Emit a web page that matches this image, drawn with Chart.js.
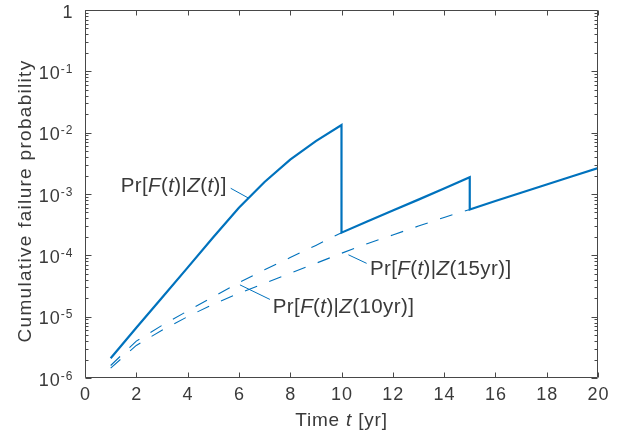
<!DOCTYPE html>
<html>
<head>
<meta charset="utf-8">
<script src="https://cdn.jsdelivr.net/npm/chart.js@4.4.1/dist/chart.umd.min.js"></script>
<style>
  html, body { margin: 0; padding: 0; background: #fff; }
  canvas { display: block; }
</style>
</head>
<body>
<canvas id="chart" width="622" height="439"></canvas>
<script>
// Cumulative failure probability, updated with the inspection record Z(t)
// (drops at the inspections at 10 and 15 years)
const tUpdated = [1, 2, 3, 4, 5, 6, 7, 8, 9, 10, 10, 11, 12, 13, 14, 15, 15, 16, 17, 18, 19, 20];
const pUpdated = [2.1e-6, 6.6e-6, 2.04e-5, 6.3e-5, 1.97e-4, 5.96e-4, 1.57e-3, 3.63e-3, 7.3e-3, 1.33e-2,
                  2.34e-4, 3.55e-4, 5.4e-4, 8.1e-4, 1.23e-3, 1.88e-3,
                  5.6e-4, 7.7e-4, 1.05e-3, 1.43e-3, 1.95e-3, 2.65e-3];

// Prediction conditional on the 10-year inspection outcome
const t10yr = [1, 2, 3, 4, 5, 6, 7, 8, 9, 10];
const p10yr = [1.6e-6, 4.0e-6, 7.2e-6, 1.24e-5, 2.1e-5, 3.6e-5, 5.8e-5, 9.2e-5, 1.45e-4, 2.34e-4];

// Prediction conditional on the 15-year inspection outcome
const t15yr = [1, 2, 3, 4, 5, 6, 7, 8, 9, 10, 11, 12, 13, 14, 15];
const p15yr = [1.45e-6, 3.4e-6, 6.0e-6, 1.0e-5, 1.6e-5, 2.4e-5, 3.5e-5, 5.1e-5, 7.4e-5, 1.08e-4,
               1.55e-4, 2.15e-4, 3.0e-4, 4.15e-4, 5.6e-4];

// Axis ticks
const xTickValues = [0, 2, 4, 6, 8, 10, 12, 14, 16, 18, 20];
const xTickLabels = ['0', '2', '4', '6', '8', '10', '12', '14', '16', '18', '20'];
const yTickExponents = [-6, -5, -4, -3, -2, -1, 0];
const yTickLabels = [['10', '-6'], ['10', '-5'], ['10', '-4'], ['10', '-3'], ['10', '-2'], ['10', '-1'], ['1', '']];

const xTitle = [['Time ', false], ['t', true], [' [yr]', false]];
const yTitle = 'Cumulative failure probability';

// Curve labels: rich-text pieces [string, italic]
const curveLabels = [
  { parts: [['Pr[', false], ['F', true], ['(', false], ['t', true], [')|', false], ['Z', true], ['(', false], ['t', true], [')]', false]],
    at: [1.39, 1.09e-3], lead: [[5.68, 1.24e-3], [6.37, 8.6e-4]] },
  { parts: [['Pr[', false], ['F', true], ['(', false], ['t', true], [')|', false], ['Z', true], ['(15yr)]', false]],
    at: [11.11, 4.7e-5], lead: [[10.98, 7.4e-5], [10.27, 1.02e-4]] },
  { parts: [['Pr[', false], ['F', true], ['(', false], ['t', true], [')|', false], ['Z', true], ['(10yr)]', false]],
    at: [7.32, 1.15e-5], lead: [[7.21, 1.91e-5], [6.04, 3.3e-5]] }
];

const BLUE = '#0072BD';
const AXIS = '#484848';
const TEXT = '#3a3a3a';
const FONT = '"Liberation Sans", Arial, Helvetica, sans-serif';

const toXY = (ts, ps) => ts.map((t, i) => ({ x: t, y: ps[i] }));

function setSpacing(ctx, px) {
  if ('letterSpacing' in ctx) ctx.letterSpacing = px + 'px';
}

function partsWidth(ctx, parts, size) {
  let w = 0;
  for (const [s, it] of parts) {
    ctx.font = (it ? 'italic ' : '') + size + 'px ' + FONT;
    w += ctx.measureText(s).width;
  }
  return w;
}

function drawParts(ctx, parts, x, y, size) {
  let cx = x;
  ctx.textAlign = 'left';
  for (const [s, it] of parts) {
    ctx.font = (it ? 'italic ' : '') + size + 'px ' + FONT;
    ctx.fillText(s, cx, y);
    cx += ctx.measureText(s).width;
  }
}

// Boxed axes with inward ticks, log minor ticks, labels and curve annotations
const axesDecor = {
  id: 'axesDecor',
  afterDraw(chart) {
    const { ctx, chartArea: a, scales: { x, y } } = chart;
    const L = Math.round(a.left) + 0.5;
    const R = Math.round(a.right) - 0.5;
    const T = Math.round(a.top) + 0.5;
    const B = Math.round(a.bottom) - 0.5;

    ctx.save();
    ctx.strokeStyle = AXIS;
    ctx.lineWidth = 1;
    ctx.beginPath();
    ctx.rect(L, T, R - L, B - T);
    xTickValues.forEach(v => {
      const px = Math.round(x.getPixelForValue(v)) + 0.5;
      ctx.moveTo(px, B); ctx.lineTo(px, B - 5);
      ctx.moveTo(px, T); ctx.lineTo(px, T + 5);
    });
    yTickExponents.forEach(e => {
      const py = Math.round(y.getPixelForValue(Math.pow(10, e))) + 0.5;
      ctx.moveTo(L, py); ctx.lineTo(L + 6, py);
      ctx.moveTo(R, py); ctx.lineTo(R - 6, py);
    });
    for (let e = yTickExponents[0]; e < yTickExponents[yTickExponents.length - 1]; e++) {
      for (let k = 2; k <= 9; k++) {
        const py = Math.round(y.getPixelForValue(k * Math.pow(10, e))) + 0.5;
        ctx.moveTo(L, py); ctx.lineTo(L + 3, py);
        ctx.moveTo(R, py); ctx.lineTo(R - 3, py);
      }
    }
    ctx.stroke();

    // tick labels
    ctx.fillStyle = TEXT;
    ctx.textBaseline = 'alphabetic';
    setSpacing(ctx, 1);
    ctx.font = '18px ' + FONT;
    ctx.textAlign = 'center';
    xTickValues.forEach((v, i) => {
      ctx.fillText(xTickLabels[i], x.getPixelForValue(v) + 0.5, B + 22);
    });
    const labelRight = L - 12;
    yTickExponents.forEach((e, i) => {
      const py = y.getPixelForValue(Math.pow(10, e));
      const [base, sup] = yTickLabels[i];
      ctx.font = '12px ' + FONT;
      const ws = sup ? ctx.measureText(sup).width : 0;
      if (sup) {
        ctx.textAlign = 'left';
        ctx.fillText(sup, labelRight - ws, py + 1.5);
      }
      ctx.font = '18px ' + FONT;
      ctx.textAlign = 'right';
      ctx.fillText(base, labelRight - ws, py + 7.5);
    });

    // axis titles
    setSpacing(ctx, 0.8);
    const tw = partsWidth(ctx, xTitle, 19);
    drawParts(ctx, xTitle, (a.left + a.right) / 2 - tw / 2, 426, 19);

    setSpacing(ctx, 1.3);
    ctx.save();
    ctx.translate(31, 201);
    ctx.rotate(-Math.PI / 2);
    ctx.font = '19px ' + FONT;
    ctx.textAlign = 'center';
    ctx.fillText(yTitle, 0, 0);
    ctx.restore();

    // curve annotations with leader lines
    ctx.strokeStyle = BLUE;
    ctx.lineWidth = 1;
    curveLabels.forEach(lbl => {
      const [p0, p1] = lbl.lead;
      ctx.beginPath();
      ctx.moveTo(x.getPixelForValue(p0[0]), y.getPixelForValue(p0[1]));
      ctx.lineTo(x.getPixelForValue(p1[0]), y.getPixelForValue(p1[1]));
      ctx.stroke();
      ctx.fillStyle = TEXT;
      setSpacing(ctx, 0.4);
      drawParts(ctx, lbl.parts, x.getPixelForValue(lbl.at[0]), y.getPixelForValue(lbl.at[1]), 20.5);
    });
    ctx.restore();
  }
};

new Chart(document.getElementById('chart'), {
  type: 'line',
  data: {
    datasets: [
      { label: 'Pr[F(t)|Z(10yr)]', data: toXY(t10yr, p10yr), borderColor: BLUE, borderWidth: 1.1,
        borderDash: [13, 13], pointRadius: 0, tension: 0, fill: false },
      { label: 'Pr[F(t)|Z(15yr)]', data: toXY(t15yr, p15yr), borderColor: BLUE, borderWidth: 1.1,
        borderDash: [13, 13], pointRadius: 0, tension: 0, fill: false },
      { label: 'Pr[F(t)|Z(t)]', data: toXY(tUpdated, pUpdated), borderColor: BLUE, borderWidth: 2.2,
        pointRadius: 0, tension: 0, fill: false }
    ]
  },
  options: {
    responsive: false,
    animation: false,
    devicePixelRatio: 1,
    layout: { padding: { top: 10, right: 24, left: 0, bottom: 0 } },
    plugins: { legend: { display: false }, tooltip: { enabled: false } },
    scales: {
      x: {
        type: 'linear', min: 0, max: 20,
        grid: { display: false }, border: { display: false },
        ticks: { display: false },
        afterFit: s => { s.height = 61; }
      },
      y: {
        type: 'logarithmic', min: 1e-6, max: 1,
        grid: { display: false }, border: { display: false },
        ticks: { display: false },
        afterFit: s => { s.width = 85; }
      }
    }
  },
  plugins: [axesDecor]
});
</script>
</body>
</html>
